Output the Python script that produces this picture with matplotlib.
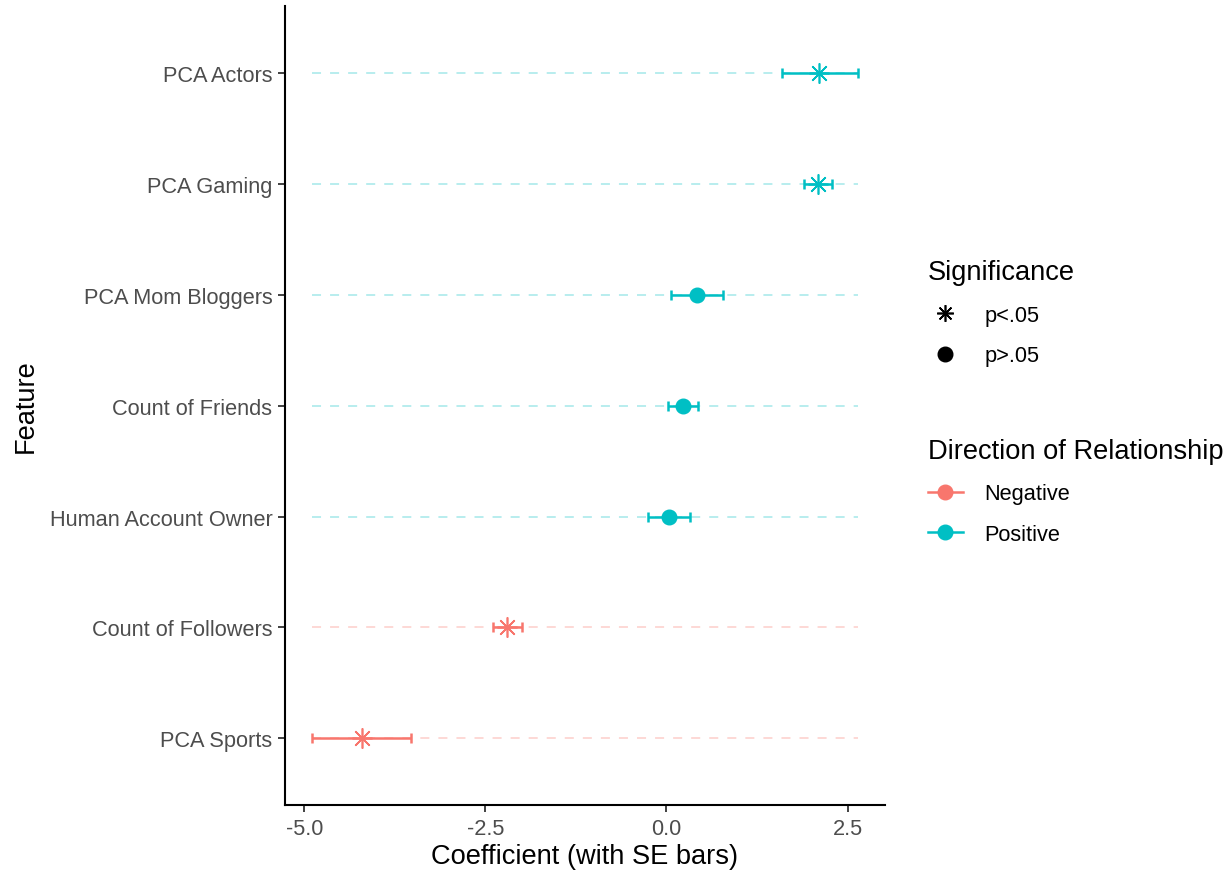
import numpy as np
import matplotlib.pyplot as plt
from matplotlib.lines import Line2D

# values, listed bottom to top
features = ['PCA Sports', 'Count of Followers', 'Human Account Owner',
            'Count of Friends', 'PCA Mom Bloggers', 'PCA Gaming', 'PCA Actors']
coef = [-4.20, -2.20, 0.03, 0.23, 0.42, 2.09, 2.11]
lower = [-4.89, -2.40, -0.26, 0.02, 0.06, 1.90, 1.59]
upper = [-3.52, -1.99, 0.32, 0.44, 0.78, 2.28, 2.64]
significant = [True, True, False, False, False, True, True]

neg_col = '#F8766D'
pos_col = '#00BFC4'
star = (8, 2, 0)

plt.rcParams['font.family'] = ['Liberation Sans', 'DejaVu Sans']

fig = plt.figure(figsize=(12.32, 8.79), dpi=100)
ax = fig.add_axes([0.2313, 0.083, 0.487, 0.909])

y = np.arange(len(features))
coef = np.array(coef)
lower = np.array(lower)
upper = np.array(upper)
x_lo, x_hi = lower.min(), upper.max()

for i in y:
    col = pos_col if coef[i] > 0 else neg_col
    ax.plot([x_lo, x_hi], [i, i], color=col, alpha=0.3, lw=1.3,
            dashes=(5, 5), zorder=1)
    ax.errorbar(coef[i], i, xerr=[[coef[i] - lower[i]], [upper[i] - coef[i]]],
                fmt='none', ecolor=col, elinewidth=1.8, capsize=3.8,
                capthick=1.8, zorder=2)
    if significant[i]:
        ax.plot(coef[i], i, marker=star, ms=14.5, mew=1.2, color=col,
                linestyle='none', zorder=3)
    else:
        ax.plot(coef[i], i, marker='o', ms=10.5, color=col,
                linestyle='none', zorder=3)

pad = 0.05 * (x_hi - x_lo)
ax.set_xlim(x_lo - pad, x_hi + pad)
ax.set_ylim(-0.6, len(features) - 0.4)
ax.set_xticks([-5.0, -2.5, 0.0, 2.5])
ax.set_xticklabels(['-5.0', '-2.5', '0.0', '2.5'])
ax.set_yticks(y)
ax.set_yticklabels(features)

for s in ['top', 'right']:
    ax.spines[s].set_visible(False)
for s in ['left', 'bottom']:
    ax.spines[s].set_linewidth(1.5)
ax.tick_params(axis='both', labelsize=15.7, labelcolor='#4D4D4D',
               width=1.3, length=5, color='#333333', pad=4)

ax.set_xlabel('Coefficient (with SE bars)', fontsize=19.6, labelpad=3)
ax.set_ylabel('Feature', fontsize=19.6, labelpad=8)

sig_handles = [
    Line2D([], [], marker=star, ms=12, mew=1.2, color='black', linestyle='none'),
    Line2D([], [], marker='o', ms=10.5, color='black', linestyle='none'),
]
leg1 = fig.legend(sig_handles, ['p<.05', 'p>.05'], title='Significance',
                  loc='upper left', bbox_to_anchor=(0.746, 0.714),
                  frameon=False, fontsize=15.7, title_fontsize=19.6,
                  alignment='left', handlelength=1.6, handletextpad=1.0,
                  labelspacing=0.9, borderaxespad=0)

dir_handles = [
    Line2D([], [], marker='o', ms=10.5, color=neg_col, lw=1.8),
    Line2D([], [], marker='o', ms=10.5, color=pos_col, lw=1.8),
]
leg2 = fig.legend(dir_handles, ['Negative', 'Positive'],
                  title='Direction of Relationship',
                  loc='upper left', bbox_to_anchor=(0.746, 0.511),
                  frameon=False, fontsize=15.7, title_fontsize=19.6,
                  alignment='left', handlelength=1.6, handletextpad=1.0,
                  labelspacing=0.9, borderaxespad=0)

fig.savefig('out.png', dpi=100)
